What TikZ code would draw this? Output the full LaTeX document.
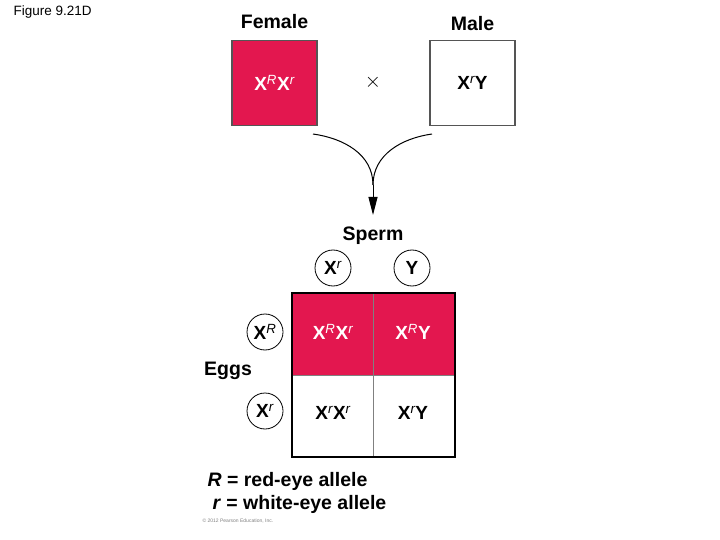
\documentclass[tikz,border=0pt]{standalone}
\usepackage{fontspec}
\setmainfont{Liberation Sans}
\usetikzlibrary{arrows.meta,positioning}
\definecolor{crimson}{HTML}{E3174F}
\definecolor{edgegray}{HTML}{555555}

\tikzset{
  heading/.style={font=\fontsize{19.5}{21}\selectfont\bfseries},
  geno/.style={font=\fontsize{19}{21}\selectfont\bfseries},
  parentbox/.style={draw=edgegray, line width=1.2pt, minimum size=85pt, inner sep=0pt},
  allele/.style={draw, circle, line width=0.8pt, minimum size=36pt, inner sep=0pt,
    font=\fontsize{19}{21}\selectfont\bfseries},
}
\newcommand{\Xsup}[1]{X\textsuperscript{\mdseries\itshape #1}}

\begin{document}
\begin{tikzpicture}[x=1pt,y=-1pt]
\useasboundingbox (0,0) rectangle (720,540);
\node[anchor=west, font=\fontsize{13.5}{15}\selectfont] (fig) at (10,12) {Figure 9.21D};

% parents
\node[parentbox, fill=crimson] (female) at (274.5,83) {};
\node[parentbox, fill=white] (male) at (472.5,83) {};
\node[heading] (femlabel) at (274.5,22) {Female};
\node[heading] (malelabel) at (472.5,24) {Male};
\node[geno, text=white] (femgeno) at (female.center) {\Xsup{R}\Xsup{r}};
\node[geno] (malegeno) at (male.center) {\Xsup{r}Y};
\node[font=\fontsize{20}{20}\selectfont] (cross) at (373,82) {$\times$};

% cross arrow
\coordinate (lstart) at (313,134);
\coordinate (rstart) at (432,134);
\coordinate (join) at (373,185);
\coordinate (tip) at (373,215);
\draw[line width=1pt] (lstart) to[out=-8,in=90] (join);
\draw[line width=1pt] (rstart) to[out=188,in=90] (join);
\draw[line width=1pt, -{Triangle[length=18pt,width=9pt]}] (join) -- (tip);

% sperm
\node[heading] (sperm) at (373,236) {Sperm};
\node[allele] (spX) at (333,268) {\Xsup{r}};
\node[allele] (spY) at (412,268) {Y};

% punnett square
\fill[crimson] (292,293) rectangle (455,375);
\draw[gray, line width=0.8pt] (373.5,293) -- (373.5,457);
\draw[gray, line width=0.8pt] (292,375) -- (455,375);
\draw[line width=1.3pt] (292,293) rectangle (455,457);
\node[geno, text=white] (c11) at (333,332) {\Xsup{R}\Xsup{r}};
\node[geno, text=white] (c12) at (413,332) {\Xsup{R}Y};
\node[geno] (c21) at (333,413) {\Xsup{r}\Xsup{r}};
\node[geno] (c22) at (413,413) {\Xsup{r}Y};

% eggs
\node[allele] (egR) at (265,332) {\Xsup{R}};
\node[allele] (egr) at (265,411) {\Xsup{r}};
\node[heading] (eggs) at (228,371) {Eggs};

% key
\node[heading, anchor=west] (keyR) at (204,481) {\textit{R} = red-eye allele};
\node[heading, anchor=west] (keyr) at (209,504) {\textit{r} = white-eye allele};
\node[anchor=west, text=gray, font=\fontsize{5}{6}\selectfont] (copy) at (199,521) {\textcopyright{} 2012 Pearson Education, Inc.};
\end{tikzpicture}
\end{document}
